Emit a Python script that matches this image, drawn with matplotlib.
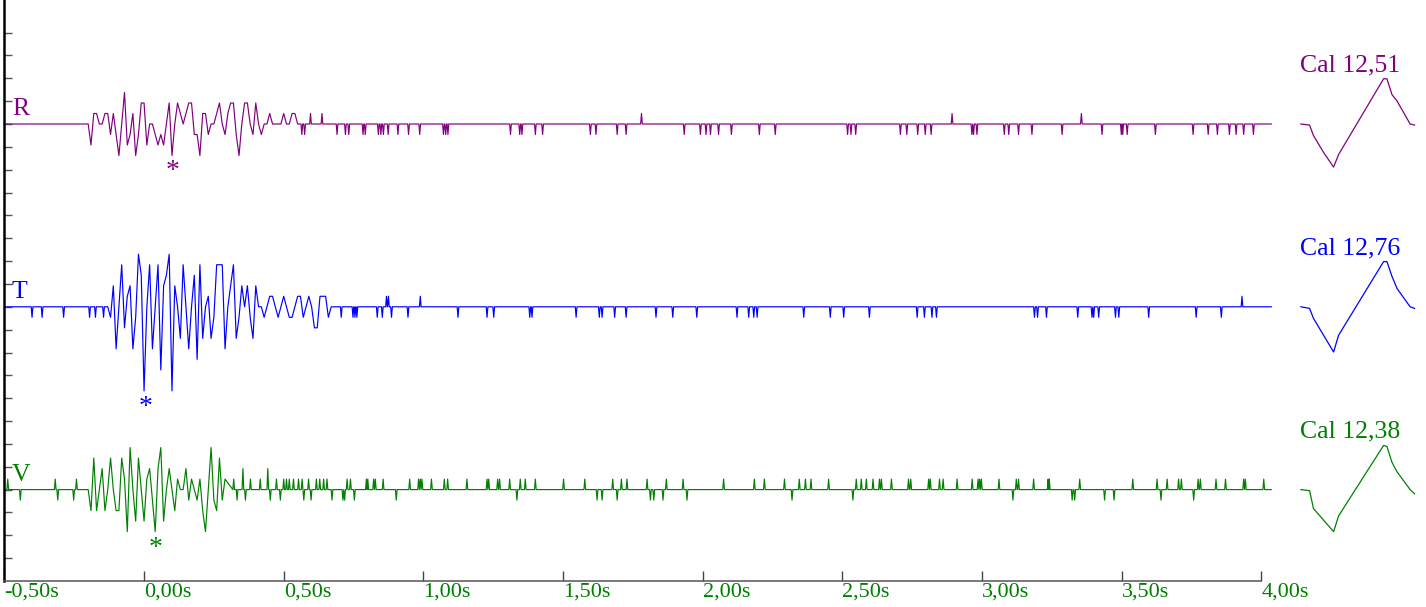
"""
Three-component seismogram (R / T / V) with calibration pulses.
"""

import matplotlib

matplotlib.use("Agg")
import matplotlib.pyplot as plt
import numpy as np

# --- data -----------------------------------------------------------------
CHANNELS = ["R", "T", "V"]
COLORS = {"R": "#800080", "T": "#0000ff", "V": "#008000"}
OFFSETS = {"R": 20.0, "T": 12.0, "V": 4.0}
CAL_LABELS = {"R": "Cal 12,51", "T": "Cal 12,76", "V": "Cal 12,38"}

SAMPLE_DT = 0.01  # s, active part of the record
T_BEGIN = -0.5
T_END = 4.036

# active part (counts), 100 Hz
R_START = -0.21
R_COUNTS = [0, 0, -2, 1, 1, 0, 0, 1, 1, -1,
            1, -1, -3, 0, 3, -2, -1, 1, -3, -1,
            2, 2, -2, 0, 0, -1, -2, -1, -2, 0,
            2, -3, 0, 2, 1, 0, 1, 2, 2, -1,
            -1, -3, 1, 1, -1, 0, 0, 1, 2, 0,
            -1, 1, 2, 2, -1, -3, 0, 2, 2, 0,
            -1, 2, 0, -1, 0, 0, 1, 0, 0, 0,
            0, 1, 0, 0, 1, 1, 0]

T_START = -0.13
T_COUNTS = [0, -1, 2, -4, 0, 4, -2, 1, 2, -4,
            -1, 5, 3, -8, 0, 4, -4, 0, 4, -6,
            2, 3, 5, -8, 2, 0, -3, 4, 0, -4,
            0, 3, -5, 4, -3, 0, 1, -3, -1, 4,
            4, 4, -4, 0, 2, 4, -3, -1, 2, 0,
            2, -1, -3, 2, 0, 0, -1, 0, 1, 1,
            0, -1, 0, 1, 0, -1, -1, 0, 1, 1,
            -1, 0, 1, 0, -2, -2, 1, 1, 1, -1,
            0]

V_START = -0.21
V_COUNTS = [0, 0, -2, 3, -2, 0, 2, -2, 0, 3,
            0, -2, -2, 3, 1, -4, 4, 0, -3, 3,
            0, -3, 1, 2, -1, -4, 2, 4, -3, 0,
            2, 0, -2, 1, 0, 0, 2, -1, 1, 0,
            -1, 1, -2, -4, 0, 4, -1, -2, 3, -1,
            1]

# isolated one-count spikes outside the active part (time s, counts)
R_SPIKE_T = [0.565, 0.575, 0.596, 0.637, 0.691, 0.721, 0.733, 0.784, 0.792, 0.839,
             0.848, 0.857, 0.874, 0.909, 0.947, 0.987, 1.072, 1.080, 1.088, 1.312,
             1.345, 1.353, 1.401, 1.427, 1.598, 1.618, 1.694, 1.726, 1.781, 1.934,
             1.992, 2.012, 2.028, 2.057, 2.103, 2.203, 2.260, 2.519, 2.531, 2.548,
             2.708, 2.731, 2.770, 2.797, 2.818, 2.893, 2.964, 2.970, 2.982, 3.080,
             3.096, 3.131, 3.179, 3.287, 3.356, 3.430, 3.499, 3.504, 3.520, 3.621,
             3.756, 3.810, 3.843, 3.886, 3.910, 3.937, 3.972]
R_SPIKE_V = [-1, -1, 1, 1, -1, -1, -1, -1, -1, -1,
             -1, -1, -1, -1, -1, -1, -1, -1, -1, -1,
             -1, -1, -1, -1, -1, -1, -1, -1, 1, -1,
             -1, -1, -1, -1, -1, -1, -1, -1, -1, -1,
             -1, -1, -1, -1, -1, 1, -1, -1, -1, -1,
             -1, -1, -1, -1, 1, -1, -1, -1, -1, -1,
             -1, -1, -1, -1, -1, -1, -1]

T_SPIKE_T = [-0.401, -0.365, -0.288, -0.195, -0.174, -0.145,
             0.706, 0.748, 0.755, 0.762, 0.835, 0.853, 0.868, 0.875, 0.886, 0.945,
             0.989, 1.124, 1.228, 1.252, 1.381, 1.389, 1.547, 1.630, 1.640, 1.685,
             1.726, 1.833, 1.893, 1.979, 2.123, 2.165, 2.183, 2.195, 2.362, 2.457,
             2.505, 2.597, 2.768, 2.794, 2.821, 2.837, 3.188, 3.199, 3.231, 3.343,
             3.394, 3.400, 3.418, 3.478, 3.490, 3.597, 3.767, 3.857, 3.931]
T_SPIKE_V = [-1, -1, -1, -1, -1, -1,
             -1, -1, -1, -1, -1, -1, 1, 1, -1, -1,
             1, -1, -1, -1, -1, -1, -1, -1, -1, -1,
             -1, -1, -1, -1, -1, -1, -1, -1, -1, -1,
             -1, -1, -1, -1, -1, -1, -1, -1, -1, -1,
             -1, -1, -1, -1, -1, -1, -1, -1, 1]

V_SPIKE_T = [-0.488, -0.443, -0.318, -0.309, -0.252, -0.242,
             0.321, 0.333, 0.354, 0.363, 0.381, 0.416, 0.443, 0.452, 0.474, 0.488,
             0.500, 0.510, 0.520, 0.535, 0.553, 0.566, 0.572, 0.589, 0.598, 0.617,
             0.629, 0.643, 0.655, 0.673, 0.712, 0.718, 0.727, 0.739, 0.753, 0.796,
             0.801, 0.822, 0.828, 0.856, 0.903, 0.951, 0.983, 0.989, 0.995, 1.029,
             1.075, 1.087, 1.156, 1.228, 1.234, 1.266, 1.273, 1.309, 1.335, 1.347,
             1.365, 1.401, 1.502, 1.578, 1.622, 1.640, 1.678, 1.694, 1.709, 1.729,
             1.801, 1.813, 1.825, 1.858, 1.870, 1.930, 1.944, 2.075, 2.185, 2.221,
             2.293, 2.320, 2.346, 2.368, 2.388, 2.451, 2.538, 2.550, 2.568, 2.586,
             2.610, 2.633, 2.640, 2.676, 2.737, 2.745, 2.809, 2.815, 2.848, 2.861,
             2.911, 2.965, 2.986, 2.992, 2.998, 3.061, 3.111, 3.123, 3.131, 3.185,
             3.237, 3.241, 3.323, 3.332, 3.350, 3.439, 3.473, 3.540, 3.627, 3.641,
             3.663, 3.704, 3.714, 3.758, 3.774, 3.782, 3.838, 3.872, 3.937, 3.943,
             4.009]
V_SPIKE_V = [1, -1, 1, -1, -1, 1,
             1, -1, 2, -1, 1, 1, 2, -1, 1, -1,
             1, 1, 1, 1, 1, 1, -1, 1, -1, 1,
             1, 1, 1, -1, -1, -1, 1, 1, -1, 1,
             1, 1, 1, 1, -1, 1, 1, 1, 1, 1,
             1, 1, 1, 1, 1, 1, 1, 1, -1, 1,
             1, 1, 1, 1, -1, -1, 1, -1, 1, 1,
             1, -1, -1, -1, 1, 1, -1, 1, 1, 1,
             1, -1, 1, 1, 1, 1, -1, 1, 1, 1,
             1, 1, 1, 1, 1, 1, 1, 1, 1, 1,
             1, 1, 1, 1, 1, 1, -1, 1, 1, 1,
             1, 1, -1, -1, 1, -1, -1, 1, 1, -1,
             1, 1, 1, -1, 1, 1, 1, 1, 1, 1,
             1]

# picked phase (asterisk) time and height
PICK_T = {"R": 0.101, "T": 0.005, "V": 0.040}
PICK_Y = {"R": 17.62, "T": 7.29, "V": 1.12}

# calibration pulses, drawn to the right of the record
CAL_START = 4.142
CAL_TIME = [0, 0.031, 0.045, 0.081, 0.117, 0.135, 0.296, 0.308, 0.326, 0.344, 0.391, 0.407]
CAL_LEVELS_R = [0, -0.1, -1.1, -2.7, -4.1, -2.9, 4.3, 4.3, 2.8, 2.2, 0, -0.1]
CAL_LEVELS_T = [0, -0.15, -1.1, -2.7, -4.3, -2.7, 4.3, 4.3, 2.9, 1.75, 0, -0.15]
CAL_LEVELS_V = [0, -0.1, -1.8, -2.9, -4.0, -2.5, 4.2, 4.1, 2.6, 1.7, 0, -0.4]

XTICKS = [-0.5, 0.0, 0.5, 1.0, 1.5, 2.0, 2.5, 3.0, 3.5, 4.0]
XTICK_LABELS = ["-0,50s", "0,00s", "0,50s", "1,00s", "1,50s", "2,00s",
                "2,50s", "3,00s", "3,50s", "4,00s"]
YTICKS = list(range(1, 25))

COUNT_SCALE = 0.46   # tick units per count
SPIKE_HALF = 0.003   # s


def build_trace(start, counts, spike_t, spike_v, offset):
    """Active samples + isolated spikes -> one polyline."""
    pts = [(T_BEGIN, 0.0), (T_END, 0.0)]
    pts += [(start + i * SAMPLE_DT, c) for i, c in enumerate(counts)]
    for st, sv in zip(spike_t, spike_v):
        pts += [(st - SPIKE_HALF, 0.0), (st, sv), (st + SPIKE_HALF, 0.0)]
    pts.sort(key=lambda p: p[0])
    t, c = zip(*pts)
    return np.array(t), offset + COUNT_SCALE * np.array(c, dtype=float)


def main():
    plt.rcParams["font.family"] = ["Liberation Serif", "DejaVu Serif"]

    traces = {
        "R": (R_START, R_COUNTS, R_SPIKE_T, R_SPIKE_V, CAL_LEVELS_R),
        "T": (T_START, T_COUNTS, T_SPIKE_T, T_SPIKE_V, CAL_LEVELS_T),
        "V": (V_START, V_COUNTS, V_SPIKE_T, V_SPIKE_V, CAL_LEVELS_V),
    }

    fig = plt.figure(figsize=(14.26, 6.07), dpi=100)
    ax = fig.add_axes([4.4 / 1426, 26 / 607, 1 - 4.4 / 1426, 581 / 607])
    ax.set_xlim(-0.5, -0.5 + (1426 - 4.4) / 279.3)
    ax.set_ylim(0, 581 / 22.85)

    for ch in CHANNELS:
        start, counts, st, sv, cal = traces[ch]
        color = COLORS[ch]
        off = OFFSETS[ch]
        t, y = build_trace(start, counts, st, sv, off)
        ax.plot(t, y, color=color, lw=0.85, clip_on=False)

        # channel letter
        ax.text(-0.473, off + 0.39, ch, color=color, fontsize=18.5, va="baseline", ha="left")
        # picked phase
        ax.text(PICK_T[ch], PICK_Y[ch], "*", color=color, fontsize=20,
                va="baseline", ha="center")

        # calibration pulse
        cal_t = CAL_START + np.array(CAL_TIME)
        ax.plot(cal_t, off + COUNT_SCALE * np.array(cal), color=color, lw=0.9, clip_on=False)
        ax.text(CAL_START - 0.002, off + 2.29, CAL_LABELS[ch], color=color, fontsize=18.5,
                va="baseline", ha="left")

    # axes styling
    for side in ["top", "right"]:
        ax.spines[side].set_visible(False)
    ax.spines["left"].set_color("black")
    ax.spines["left"].set_linewidth(1.8)
    ax.spines["bottom"].set_color("#555555")
    ax.spines["bottom"].set_linewidth(1.1)
    ax.spines["bottom"].set_bounds(-0.5, 4.0)

    ax.set_xticks(XTICKS)
    ax.set_xticklabels(XTICK_LABELS)
    ax.set_yticks(YTICKS)
    ax.set_yticklabels([])
    ax.tick_params(axis="x", direction="in", length=7.5, width=1.0, color="#444444",
                   labelcolor="#008000", labelsize=16, pad=1)
    ax.tick_params(axis="y", direction="in", length=5.5, width=1.0, color="#555555")
    for lbl in ax.get_xticklabels():
        lbl.set_ha("left")

    fig.savefig("out.png", dpi=100)
    plt.close(fig)


if __name__ == "__main__":
    main()
